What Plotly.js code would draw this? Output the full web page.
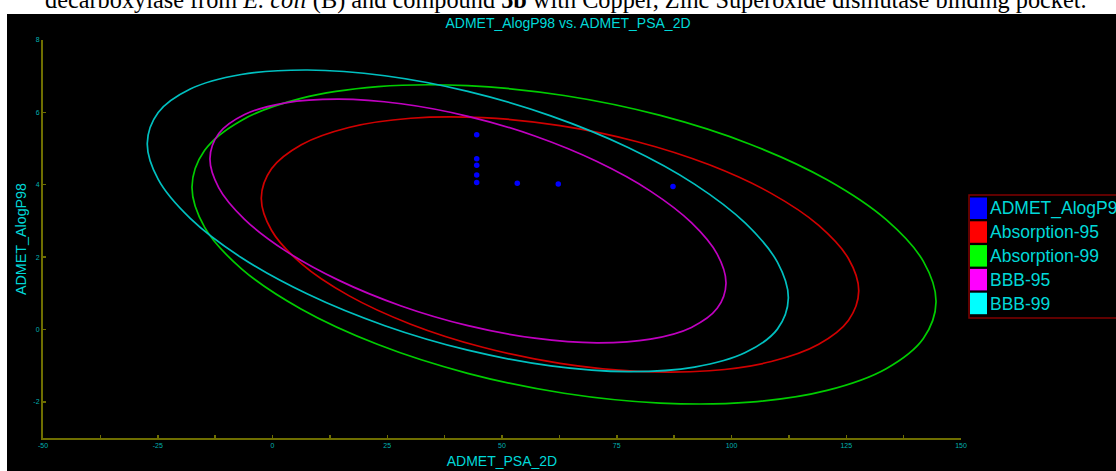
<!DOCTYPE html>
<html>
<head>
<meta charset="utf-8">
<script src="https://cdn.plot.ly/plotly-3.0.1.min.js"></script>
<style>
html,body{margin:0;padding:0;background:#ffffff;}
#chart{width:1116px;height:471px;}
</style>
</head>
<body>
<div id="chart"></div>
<script>
// ---------- data ----------
const chartTitle = 'ADMET_AlogP98 vs. ADMET_PSA_2D';
const xTitle = 'ADMET_PSA_2D';
const yTitle = 'ADMET_AlogP98';
const caption = 'decarboxylase from <i>E. coli</i> (B) and compound <b>5b</b> with Copper, Zinc Superoxide dismutase binding pocket.';

const xTickVals = [-50, -25, 0, 25, 50, 75, 100, 125, 150];
const yTickVals = [-2, 0, 2, 4, 6, 8];

const seriesNames = ['ADMET_AlogP98', 'Absorption-95', 'Absorption-99', 'BBB-95', 'BBB-99'];

// compounds
const cmpdPSA   = [44.49, 44.49, 44.49, 44.49, 44.49, 53.33, 62.26, 87.25];
const cmpdAlogP = [5.38, 4.72, 4.54, 4.27, 4.06, 4.04, 4.02, 3.95];

// Absorption 95% ellipse (points estimated along the drawn curve)
const abs95PSA   = [62.64, 45.80, 30.10, 16.62, 6.28, -0.22, -2.44, -0.22, 6.28, 16.62, 30.10, 45.80, 62.64, 79.48, 95.18, 108.66, 119.00, 125.50, 127.72, 125.50, 119.00, 108.66, 95.18, 79.48, 62.64];
const abs95AlogP = [5.634, 5.855, 5.838, 5.583, 5.106, 4.442, 3.636, 2.742, 1.820, 0.935, 0.146, -0.493, -0.938, -1.159, -1.142, -0.887, -0.410, 0.254, 1.060, 1.954, 2.876, 3.761, 4.550, 5.189, 5.634];

// Absorption 99% ellipse
const abs99PSA   = [63.51, 42.53, 22.98, 6.20, -6.68, -14.78, -17.54, -14.78, -6.68, 6.20, 22.98, 42.53, 63.51, 84.49, 104.04, 120.82, 133.70, 141.80, 144.56, 141.80, 133.70, 120.82, 104.04, 84.49, 63.51];
const abs99AlogP = [6.466, 6.737, 6.710, 6.385, 5.785, 4.951, 3.940, 2.821, 1.669, 0.565, -0.418, -1.213, -1.764, -2.035, -2.008, -1.683, -1.083, -0.249, 0.762, 1.881, 3.033, 4.137, 5.120, 5.915, 6.466];

// BBB 95% ellipse
const bbb95PSA   = [42.59, 28.04, 14.48, 2.84, -6.09, -11.70, -13.62, -11.70, -6.09, 2.84, 14.48, 28.04, 42.59, 57.14, 70.70, 82.34, 91.27, 96.88, 98.80, 96.88, 91.27, 82.34, 70.70, 57.14, 42.59];
const bbb95AlogP = [5.891, 6.238, 6.366, 6.264, 5.939, 5.413, 4.723, 3.915, 3.045, 2.172, 1.356, 0.650, 0.105, -0.242, -0.370, -0.268, 0.057, 0.583, 1.273, 2.081, 2.951, 3.824, 4.640, 5.346, 5.891];

// BBB 99% ellipse
const bbb99PSA   = [42.55, 24.48, 7.63, -6.83, -17.92, -24.90, -27.28, -24.90, -17.92, -6.83, 7.63, 24.48, 42.55, 60.62, 77.47, 91.93, 103.02, 110.00, 112.38, 110.00, 103.02, 91.93, 77.47, 60.62, 42.55];
const bbb99AlogP = [6.579, 7.011, 7.171, 7.047, 6.646, 5.997, 5.145, 4.147, 3.070, 1.989, 0.977, 0.103, -0.573, -1.005, -1.165, -1.041, -0.640, 0.009, 0.861, 1.859, 2.936, 4.017, 5.029, 5.903, 6.579];

// ---------- styling ----------
const W = 1116, H = 471;
const M = {l: 43, r: 155, t: 40, b: 33};
const lineColors = ['#0000ff', '#d00000', '#00cc00', '#c000c0', '#00c0c0'];
const swatchColors = ['#0000ff', '#ff0000', '#00ff00', '#ff00ff', '#00ffff'];
const cyanText = '#00d8d8';
const tickText = '#00b0b0';
const axisColor = '#6e6e00';
const sans = '"Liberation Sans", Arial, sans-serif';
const plotW = W - M.l - M.r, plotH = H - M.t - M.b;
const px2x = p => (p - M.l) / plotW;
const px2y = p => (H - M.b - p) / plotH;

const ellipseSets = [
  [abs95PSA, abs95AlogP],
  [abs99PSA, abs99AlogP],
  [bbb95PSA, bbb95AlogP],
  [bbb99PSA, bbb99AlogP]
];

const traces = [];
ellipseSets.forEach((s, i) => {
  traces.push({
    type: 'scatter', mode: 'lines', x: s[0], y: s[1], name: seriesNames[i + 1],
    line: {color: lineColors[i + 1], width: 1.7, shape: 'spline', smoothing: 1},
    showlegend: false, hoverinfo: 'skip'
  });
});
traces.push({
  type: 'scatter', mode: 'markers', x: cmpdPSA, y: cmpdAlogP, name: seriesNames[0],
  marker: {color: lineColors[0], size: 5.5}, showlegend: false
});

// background, legend
const shapes = [
  {type: 'rect', xref: 'paper', yref: 'paper', layer: 'below',
   x0: px2x(7), x1: px2x(W + 5), y0: px2y(14), y1: px2y(H + 5),
   fillcolor: '#000000', line: {width: 0}},
  {type: 'rect', xref: 'paper', yref: 'paper',
   x0: px2x(969), x1: px2x(W + 10), y0: px2y(195), y1: px2y(318),
   fillcolor: '#000000', line: {color: '#800000', width: 1.5}}
];
const annotations = [
  {xref: 'paper', yref: 'paper', x: px2x(566), y: px2y(16), xanchor: 'center', yanchor: 'bottom',
   text: caption, showarrow: false,
   font: {family: '"Liberation Serif", "Times New Roman", serif', size: 24.3, color: '#000000'}}
];
seriesNames.forEach((n, i) => {
  const top = 197.5 + i * 23.8;
  shapes.push({type: 'rect', xref: 'paper', yref: 'paper',
    x0: px2x(970), x1: px2x(987), y0: px2y(top), y1: px2y(top + 21.5),
    fillcolor: swatchColors[i], line: {width: 0}});
  annotations.push({xref: 'paper', yref: 'paper', x: px2x(988), y: px2y(top + 11),
    xanchor: 'left', yanchor: 'middle', text: n, showarrow: false,
    font: {family: sans, size: 17.5, color: cyanText}});
});

const layout = {
  width: W, height: H,
  margin: Object.assign({autoexpand: false, pad: 0}, M),
  paper_bgcolor: '#ffffff', plot_bgcolor: '#000000',
  showlegend: false,
  title: {text: chartTitle, xref: 'container', yref: 'container', x: 568 / W, y: 1 - 23 / H,
          xanchor: 'center', yanchor: 'middle', font: {family: sans, size: 14, color: cyanText}},
  xaxis: {
    range: [-50, 150], tickmode: 'array', tickvals: xTickVals, ticktext: xTickVals.map(String),
    showgrid: false, zeroline: false, showline: true, linecolor: axisColor, linewidth: 2,
    ticks: 'inside', ticklen: 3, tickwidth: 1.5, tickcolor: axisColor,
    minor: {dtick: 12.5, tick0: -50, ticks: 'inside', ticklen: 3, tickwidth: 1.5, tickcolor: axisColor, showgrid: false},
    tickfont: {family: sans, size: 7, color: tickText},
    title: {text: xTitle, standoff: 8, font: {family: sans, size: 14, color: cyanText}}
  },
  yaxis: {
    range: [-3, 8], tickmode: 'array', tickvals: yTickVals, ticktext: yTickVals.map(String),
    showgrid: false, zeroline: false, showline: true, linecolor: axisColor, linewidth: 2,
    ticks: 'inside', ticklen: 3, tickwidth: 1.5, tickcolor: axisColor,
    tickfont: {family: sans, size: 7, color: tickText},
    title: {text: yTitle, standoff: 3, font: {family: sans, size: 14.3, color: cyanText}}
  },
  shapes: shapes,
  annotations: annotations
};

Plotly.newPlot('chart', traces, layout, {displayModeBar: false, staticPlot: true});
</script>
</body>
</html>
